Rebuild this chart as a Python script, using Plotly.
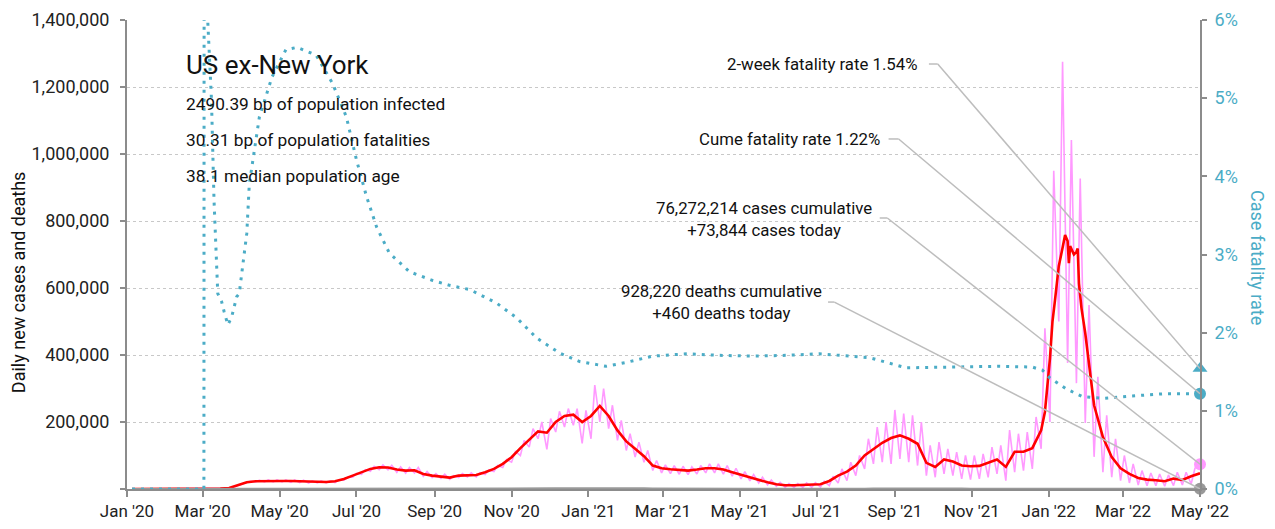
import pandas as pd
import plotly.graph_objects as go

# ---------------- data ----------------
# weekly (Sunday) dates 2020-01-05 .. 2022-05-01
week_dates = pd.date_range("2020-01-05", "2022-05-01", freq="7D")
mid_dates = week_dates[:-1] + pd.Timedelta(days=3)

# 7-day average new cases (thousands), one per week
cases_avg_k = [0, 0, 0, 0, 0, 0, 0, 0, 0.1, 0.3,
               1, 3, 12, 20, 23, 24, 24, 24, 24, 23,
               21, 21, 21, 23, 30, 40, 50, 60, 65, 64,
               58, 55, 56, 45, 40, 38, 34, 40, 42, 42,
               50, 60, 75, 95, 122, 148, 172, 168, 200, 218,
               222, 200, 218, 248, 218, 175, 142, 120, 98, 70,
               62, 59, 56, 55, 58, 62, 62, 58, 50, 42,
               34, 27, 20, 14, 11, 11, 12, 12, 14, 24,
               40, 52, 70, 100, 120, 138, 152, 160, 150, 135,
               78, 66, 88, 82, 70, 68, 69, 78, 88, 66,
               111, 111, 122, 175, 390, 665, 740, 708, 465, 250,
               155, 95, 62, 45, 33, 28, 26, 23, 31, 27,
               38, 47]
# extra 7-day average readings around the Omicron peak (thousands)
extra_avg_dates = ["2021-12-29", "2022-01-04", "2022-01-06", "2022-01-12", "2022-01-14",
                   "2022-01-17", "2022-01-18", "2022-01-21", "2022-01-24", "2022-01-25",
                   "2022-01-27"]
extra_avg_k = [230, 500, 564, 720, 758, 674, 725, 700, 718, 614, 540]

# raw daily cases (thousands): weekly low (Sundays) and mid-week high (Wednesdays)
daily_low_k = [0, 0, 0, 0, 0, 0, 0, 0, 0, 0.2,
               0.8, 2, 10, 18, 21, 21, 21, 21, 20, 19,
               18, 18, 18, 19, 26, 35, 44, 53, 58, 57,
               50, 47, 48, 38, 34, 32, 29, 34, 36, 36,
               43, 52, 64, 80, 100, 125, 150, 118, 170, 185,
               190, 136, 150, 200, 180, 145, 115, 95, 80, 55,
               48, 46, 44, 43, 45, 48, 48, 44, 38, 30,
               24, 18, 12, 8, 5, 5, 5, 5, 6, 10,
               18, 25, 40, 60, 75, 80, 75, 90, 80, 70,
               40, 35, 45, 40, 30, 28, 30, 35, 45, 25,
               50, 55, 60, 120, 200, 500, 376, 316, 197, 96,
               50, 35, 25, 18, 12, 10, 10, 8, 10, 12,
               15, 73.844]
daily_high_k = [0, 0, 0, 0, 0, 0, 0, 0, 0.2, 0.5,
                1.5, 5, 15, 23, 26, 27, 27, 27, 27, 26,
                24, 24, 24, 27, 35, 47, 58, 68, 72, 71,
                66, 64, 64, 52, 46, 44, 40, 46, 48, 49,
                57, 70, 88, 112, 145, 180, 200, 210, 232, 240,
                240, 235, 310, 300, 250, 205, 165, 140, 115, 85,
                72, 70, 68, 66, 70, 75, 75, 70, 62, 52,
                43, 35, 27, 20, 16, 16, 18, 19, 23, 38,
                60, 80, 100, 150, 185, 200, 236, 225, 220, 200,
                130, 140, 120, 110, 100, 100, 105, 125, 130, 176,
                165, 170, 215, 480, 950, 1275, 1042, 927, 549, 335,
                220, 150, 100, 75, 55, 48, 45, 42, 50, 50,
                62]

# daily deaths, 7-day average (people), one per week
deaths_avg = [0, 0, 0, 0, 0, 0, 0, 0, 0, 2,
              5, 30, 150, 600, 1100, 1300, 1300, 1250, 1200, 1150,
              1000, 900, 800, 650, 550, 500, 500, 600, 800, 1000,
              1100, 1100, 1050, 1000, 950, 850, 800, 750, 750, 700,
              700, 750, 800, 850, 950, 1150, 1400, 1600, 2000, 2300,
              2500, 2600, 2700, 3200, 3200, 3000, 2900, 2500, 2100, 1800,
              1500, 1300, 1050, 900, 800, 700, 680, 680, 650, 600,
              550, 500, 400, 330, 300, 260, 250, 260, 270, 300,
              360, 500, 700, 1000, 1300, 1500, 1800, 1950, 2000, 1950,
              1800, 1600, 1450, 1300, 1200, 1100, 1050, 1050, 1100, 1000,
              1200, 1250, 1200, 1200, 1300, 1700, 1900, 2100, 2300, 2400,
              2300, 2000, 1700, 1400, 1100, 900, 700, 550, 450, 400,
              350, 460]

# case fatality rate (%)
cfr_dates = ["2020-01-05", "2020-03-02", "2020-03-03", "2020-03-05", "2020-03-08",
             "2020-03-10", "2020-03-13", "2020-03-16", "2020-03-18", "2020-03-21",
             "2020-03-24", "2020-03-28", "2020-03-30", "2020-04-05", "2020-04-07",
             "2020-04-15", "2020-04-25", "2020-05-06", "2020-05-15", "2020-05-30",
             "2020-06-12", "2020-06-23", "2020-07-01", "2020-07-09", "2020-07-17",
             "2020-07-27", "2020-08-12", "2020-08-30", "2020-09-12", "2020-09-29",
             "2020-10-20", "2020-11-05", "2020-11-21", "2020-12-09", "2020-12-25",
             "2021-01-15", "2021-01-31", "2021-02-21", "2021-03-20", "2021-04-15",
             "2021-05-11", "2021-06-07", "2021-07-03", "2021-08-12", "2021-09-10",
             "2021-10-14", "2021-11-23", "2021-12-19", "2021-12-27", "2022-01-02",
             "2022-01-15", "2022-01-28", "2022-02-13", "2022-03-08", "2022-04-04",
             "2022-05-01"]
cfr_pct = [0, 0, 40, 6.0, 4.98,
           3.7, 2.5, 2.4, 2.27, 2.1,
           2.2, 2.46, 2.5, 3.27, 3.9,
           4.76, 5.27, 5.62, 5.65, 5.55,
           5.19, 4.76, 4.21, 3.74, 3.35,
           3.02, 2.78, 2.67, 2.61, 2.55,
           2.38, 2.19, 1.93, 1.74, 1.63,
           1.57, 1.62, 1.70, 1.73, 1.71,
           1.70, 1.71, 1.73, 1.68, 1.55,
           1.56, 1.57, 1.56, 1.52, 1.42,
           1.28, 1.18, 1.16, 1.19, 1.22,
           1.22]

end_date = "2022-05-01"
two_week_cfr = 1.54
cume_cfr = 1.22
cases_today = 73844
deaths_today = 460
cases_cum = 76272214
deaths_cum = 928220

x_tick_labels = ["Jan '20", "Mar '20", "May '20", "Jul '20", "Sep '20", "Nov '20",
                 "Jan '21", "Mar '21", "May '21", "Jul '21", "Sep '21", "Nov '21",
                 "Jan '22", "Mar '22", "May '22"]
y_tick_vals = [0, 200000, 400000, 600000, 800000, 1000000, 1200000, 1400000]
y_tick_labels = ["", "200,000", "400,000", "600,000", "800,000", "1,000,000",
                 "1,200,000", "1,400,000"]
y2_tick_vals = [0, 1, 2, 3, 4, 5, 6]
y2_tick_labels = ["0%", "1%", "2%", "3%", "4%", "5%", "6%"]

# ---------------- build series ----------------
avg_df = pd.concat([
    pd.DataFrame({"d": week_dates, "v": [v * 1000 for v in cases_avg_k]}),
    pd.DataFrame({"d": pd.to_datetime(extra_avg_dates), "v": [v * 1000 for v in extra_avg_k]}),
]).sort_values("d")

daily_x, daily_y = [], []
for i in range(len(mid_dates)):
    daily_x += [week_dates[i], mid_dates[i]]
    daily_y += [daily_low_k[i] * 1000, daily_high_k[i] * 1000]
daily_x.append(week_dates[-1])
daily_y.append(daily_low_k[-1] * 1000)

# ---------------- style ----------------
FONT = "Roboto, Liberation Sans, sans-serif"
TEAL = "#4bacc6"
PINK = "#ff99ff"
RED = "#ff0000"
GREY = "#999999"
AX = "#8c8c8c"
LEAD = "#bdbdbd"

fig = go.Figure()
fig.add_trace(go.Scatter(x=daily_x, y=daily_y, mode="lines",
                         line=dict(color=PINK, width=1.6), hoverinfo="skip"))
fig.add_trace(go.Scatter(x=avg_df["d"], y=avg_df["v"], mode="lines",
                         line=dict(color=RED, width=2.6)))
fig.add_trace(go.Scatter(x=week_dates, y=deaths_avg, mode="lines",
                         line=dict(color=GREY, width=2)))
fig.add_trace(go.Scatter(x=pd.to_datetime(cfr_dates), y=cfr_pct, mode="lines", yaxis="y2",
                         line=dict(color=TEAL, width=3, dash="3px,6px")))

# end markers
fig.add_trace(go.Scatter(x=[end_date], y=[two_week_cfr], yaxis="y2", mode="markers",
                         marker=dict(symbol="triangle-up", size=13, color=TEAL), cliponaxis=False))
fig.add_trace(go.Scatter(x=[end_date], y=[cume_cfr], yaxis="y2", mode="markers",
                         marker=dict(symbol="circle", size=12, color=TEAL), cliponaxis=False))
fig.add_trace(go.Scatter(x=[end_date], y=[cases_today], mode="markers",
                         marker=dict(symbol="circle", size=12, color=PINK), cliponaxis=False))
fig.add_trace(go.Scatter(x=[end_date], y=[deaths_today], mode="markers",
                         marker=dict(symbol="circle", size=12, color=GREY), cliponaxis=False))

# leader lines: short horizontal stub then diagonal to end marker
leaders = [
    ("y2", "2021-09-28", "2021-10-05", 5.437, two_week_cfr),
    ("y2", "2021-08-27", "2021-09-04", 4.478, cume_cfr),
    ("y", "2021-08-20", "2021-08-26", 809000, cases_today),
    ("y", "2021-07-10", "2021-07-15", 558000, deaths_today),
]
shapes = []
for yref, xa, xb, ys, ye in leaders:
    shapes.append(dict(type="line", xref="x", yref=yref, x0=xa, x1=xb, y0=ys, y1=ys,
                       line=dict(color=LEAD, width=1.5)))
    shapes.append(dict(type="line", xref="x", yref=yref, x0=xb, x1=end_date, y0=ys, y1=ye,
                       line=dict(color=LEAD, width=1.5)))

ann = []
def txt(x, y, s, size, xanchor="left", color="#111", align="left", angle=0):
    ann.append(dict(x=x, y=y, xref="paper", yref="paper", text=s, showarrow=False,
                    xanchor=xanchor, yanchor="middle", align=align, textangle=angle,
                    font=dict(family=FONT, size=size, color=color)))

txt(0.0531, 0.904, "US ex-New York", 26)
txt(0.0531, 0.8209, "2490.39 bp of population infected", 17.3)
txt(0.0531, 0.7441, "30.31 bp of population fatalities", 17.3)
txt(0.0531, 0.6674, "38.1 median population age", 17.3)
txt(0.739, 0.906, f"2-week fatality rate {two_week_cfr:.2f}%", 16.8, xanchor="right")
txt(0.7036, 0.7463, f"Cume fatality rate {cume_cfr:.2f}%", 16.8, xanchor="right")
txt(0.5937, 0.5757, f"{cases_cum:,} cases cumulative<br>+{cases_today:,} cases today", 16.8,
    xanchor="center", align="center")
txt(0.554, 0.3977, f"{deaths_cum:,} deaths cumulative<br>+{deaths_today:,} deaths today", 16.8,
    xanchor="center", align="center")
txt(-0.1016, 0.441, "Daily new cases and deaths", 18, xanchor="center", angle=-90)
txt(1.054, 0.4925, "Case fatality rate", 18, xanchor="center", color=TEAL, angle=90)

fig.update_layout(
    width=1275, height=529,
    margin=dict(l=127, r=75, t=20, b=40),
    paper_bgcolor="white", plot_bgcolor="white",
    showlegend=False,
    font=dict(family=FONT, size=17, color="#222"),
    shapes=shapes, annotations=ann,
    xaxis=dict(type="date", range=["2020-01-01", end_date], automargin=False,
               tickvals=pd.date_range("2020-01-01", end_date, freq="2MS"),
               ticktext=x_tick_labels, showgrid=False, zeroline=False,
               showline=True, linecolor=AX, linewidth=2,
               ticks="outside", ticklen=6, tickcolor=AX, tickwidth=1.5,
               tickfont=dict(family=FONT, size=17, color="#222")),
    yaxis=dict(range=[0, 1400000], tickvals=y_tick_vals, ticktext=y_tick_labels,
               automargin=False,
               showgrid=True, gridcolor="#c8c8c8", griddash="dot", gridwidth=1,
               zeroline=False, showline=True, linecolor=AX, linewidth=2,
               ticks="outside", ticklen=5, tickcolor=AX, tickwidth=1.5,
               ticklabelstandoff=7,
               tickfont=dict(family=FONT, size=18, color="#222")),
    yaxis2=dict(range=[0, 6], overlaying="y", side="right", tickvals=y2_tick_vals,
                automargin=False,
                ticktext=y2_tick_labels, showgrid=False, zeroline=False,
                showline=True, linecolor=AX, linewidth=2,
                ticks="outside", ticklen=5, tickcolor=AX, tickwidth=1.5,
                ticklabelstandoff=4,
                tickfont=dict(family=FONT, size=18, color=TEAL)),
)

fig.write_html("out.html", config={"displayModeBar": False},
               post_script="document.body.style.margin='0';document.body.style.overflow='hidden';")
